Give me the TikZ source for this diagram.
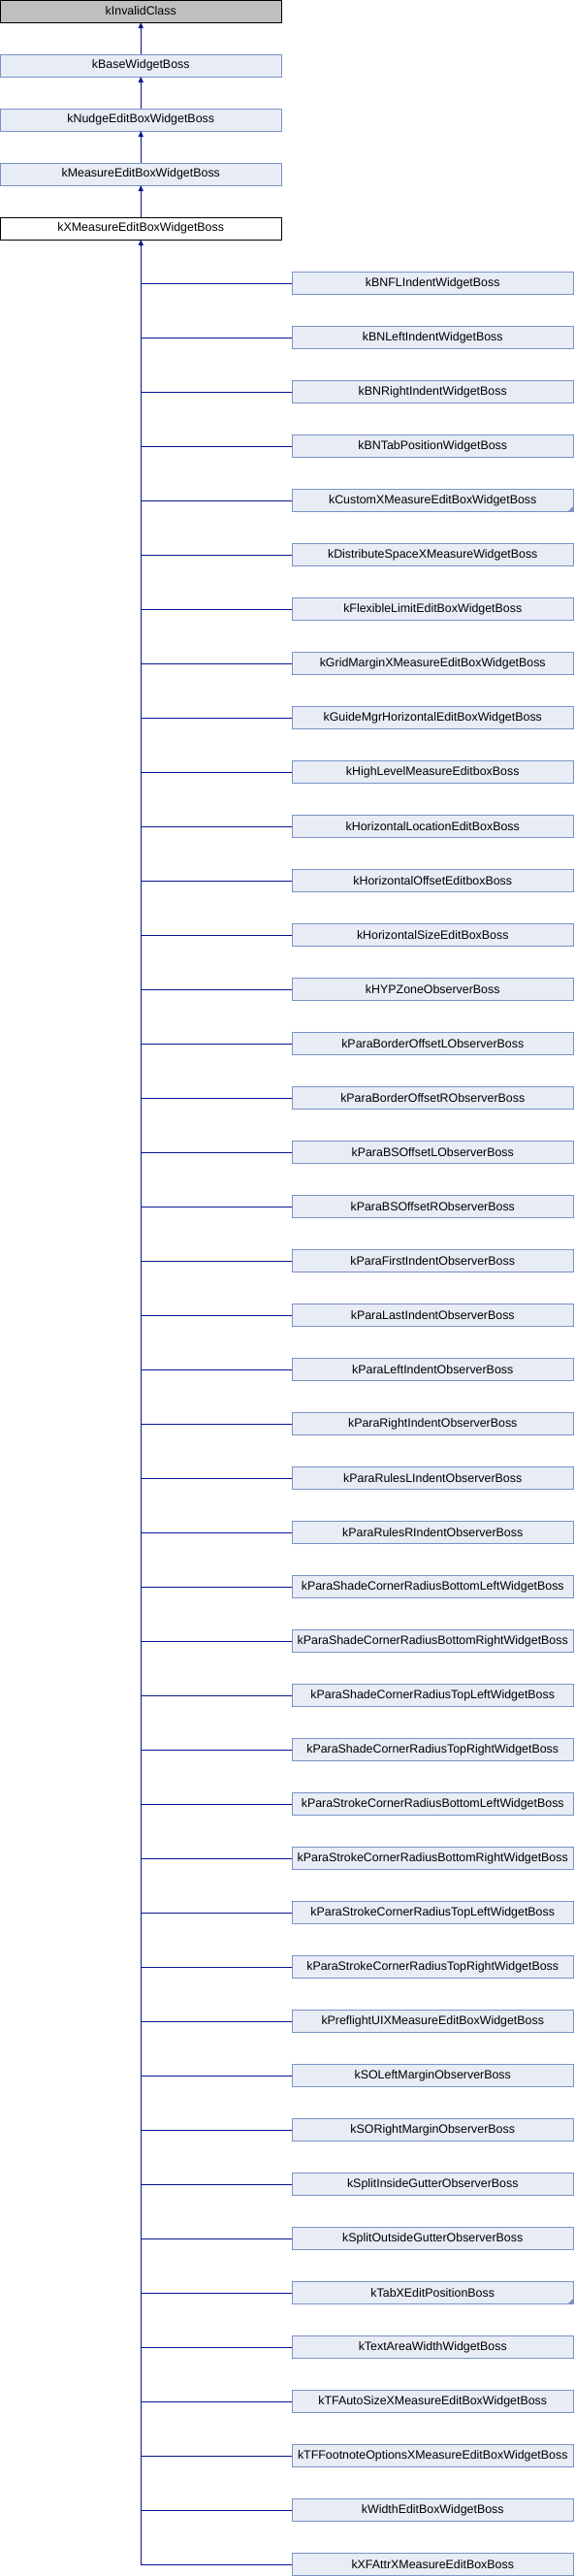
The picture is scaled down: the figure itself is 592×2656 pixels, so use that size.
\documentclass[tikz,border=0pt]{standalone}
\usepackage{fontspec}
\setmainfont{Liberation Sans}
\usetikzlibrary{positioning,arrows.meta}

\begin{document}
\begin{tikzpicture}[x=1pt, y=1pt, font=\fontsize{12.4}{14}\selectfont,
	klasse/.style={rectangle, draw=boxrand, fill=boxblau, line width=1pt, minimum width=290.5pt, minimum height=23pt, inner sep=0pt, outer sep=0pt},
	erbe/.style={draw=linieblau, line width=1pt},
	pfeil/.style={erbe, -{Triangle[length=6pt, width=5pt]}}]

		% Farben definieren
		\definecolor{boxblau}{RGB}{232,236,245}
		\definecolor{boxrand}{RGB}{122,146,200}
		\definecolor{linieblau}{RGB}{10,20,145}
		\definecolor{grau}{RGB}{191,191,191}

		\useasboundingbox (0,0) rectangle (592,-2656);

		% --- Basisklassen oben ---
		\node[klasse, fill=grau, draw=black] (b0) at (145.25,-11.5) {kInvalidClass};
		\node[klasse, below=33pt of b0] (b1) {kBaseWidgetBoss};
		\node[klasse, below=33pt of b1] (b2) {kNudgeEditBoxWidgetBoss};
		\node[klasse, below=33pt of b2] (b3) {kMeasureEditBoxWidgetBoss};
		\node[klasse, fill=white, draw=black, below=33pt of b3] (b4) {kXMeasureEditBoxWidgetBoss};

		\foreach \unten/\oben in {b1/b0, b2/b1, b3/b2, b4/b3}
			\draw[pfeil] (\unten) -- (\oben);

		% --- abgeleitete Klassen rechts ---
		\foreach \name [count=\i] in {kBNFLIndentWidgetBoss, kBNLeftIndentWidgetBoss, kBNRightIndentWidgetBoss,
			kBNTabPositionWidgetBoss, kCustomXMeasureEditBoxWidgetBoss, kDistributeSpaceXMeasureWidgetBoss,
			kFlexibleLimitEditBoxWidgetBoss, kGridMarginXMeasureEditBoxWidgetBoss, kGuideMgrHorizontalEditBoxWidgetBoss,
			kHighLevelMeasureEditboxBoss, kHorizontalLocationEditBoxBoss, kHorizontalOffsetEditboxBoss,
			kHorizontalSizeEditBoxBoss, kHYPZoneObserverBoss, kParaBorderOffsetLObserverBoss,
			kParaBorderOffsetRObserverBoss, kParaBSOffsetLObserverBoss, kParaBSOffsetRObserverBoss,
			kParaFirstIndentObserverBoss, kParaLastIndentObserverBoss, kParaLeftIndentObserverBoss,
			kParaRightIndentObserverBoss, kParaRulesLIndentObserverBoss, kParaRulesRIndentObserverBoss,
			kParaShadeCornerRadiusBottomLeftWidgetBoss, kParaShadeCornerRadiusBottomRightWidgetBoss,
			kParaShadeCornerRadiusTopLeftWidgetBoss, kParaShadeCornerRadiusTopRightWidgetBoss,
			kParaStrokeCornerRadiusBottomLeftWidgetBoss, kParaStrokeCornerRadiusBottomRightWidgetBoss,
			kParaStrokeCornerRadiusTopLeftWidgetBoss, kParaStrokeCornerRadiusTopRightWidgetBoss,
			kPreflightUIXMeasureEditBoxWidgetBoss, kSOLeftMarginObserverBoss, kSORightMarginObserverBoss,
			kSplitInsideGutterObserverBoss, kSplitOutsideGutterObserverBoss, kTabXEditPositionBoss,
			kTextAreaWidthWidgetBoss, kTFAutoSizeXMeasureEditBoxWidgetBoss, kTFFootnoteOptionsXMeasureEditBoxWidgetBoss,
			kWidthEditBoxWidgetBoss, kXFAttrXMeasureEditBoxBoss}
			\node[klasse] (k\i) at (446.25,{-292-56*(\i-1)}) {\name};

		% Ecken fuer abgekuerzte Klassen
		\foreach \i in {5,38}
			\fill[boxrand] (k\i.south east) -- ++(-6,0) -- ++(6,6) -- cycle;

		% Verbindungen
		\foreach \i in {1,...,42}
			\draw[erbe] (k\i.west) -- (k\i.west -| b4.south);
		\draw[pfeil] (k43.west) -| (b4.south);

	\end{tikzpicture}
\end{document}
